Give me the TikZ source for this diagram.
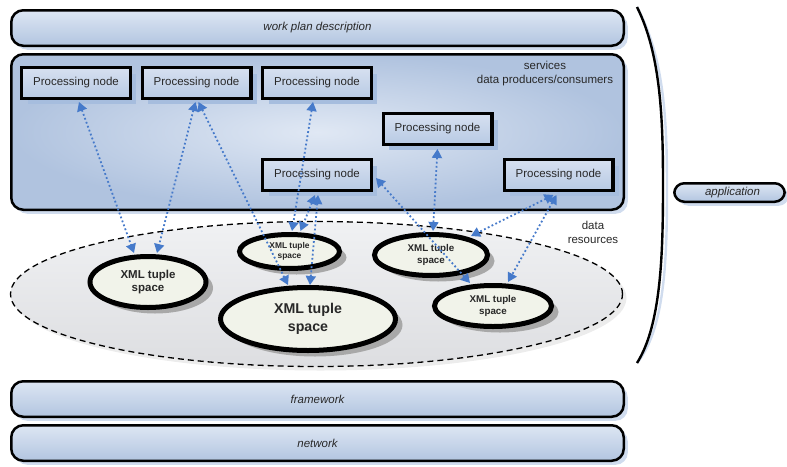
\documentclass[tikz,border=0pt]{standalone}
\usepackage{fontspec}
\setmainfont{Liberation Sans}
\usetikzlibrary{arrows.meta,shadows,shapes.geometric}

\definecolor{barTop}{RGB}{221,230,243}
\definecolor{barBot}{RGB}{178,197,224}
\definecolor{barShadow}{RGB}{208,220,238}
\definecolor{boxInner}{RGB}{224,232,244}
\definecolor{boxOuter}{RGB}{176,195,223}
\definecolor{pnTop}{RGB}{214,224,240}
\definecolor{pnBot}{RGB}{184,202,228}
\definecolor{pnShadow}{RGB}{166,189,222}
\definecolor{linkBlue}{RGB}{70,122,202}
\definecolor{tupleFill}{RGB}{241,243,234}
\definecolor{tupleShadow}{RGB}{168,168,168}
\definecolor{poolTop}{RGB}{240,241,243}
\definecolor{poolBot}{RGB}{221,222,225}
\definecolor{poolShadow}{RGB}{236,236,236}
\definecolor{labelGrey}{RGB}{40,40,40}

\tikzset{
  txt/.style={font=\fontsize{11.5}{14}\selectfont, text=labelGrey},
  layerbar/.style={draw=black, line width=2.5pt, rounded corners=12pt,
    top color=barTop, bottom color=barBot, inner sep=0pt,
    minimum width=612.5pt, minimum height=35.5pt,
    drop shadow={shadow xshift=4pt, shadow yshift=-4pt, fill=barShadow, opacity=1},
    txt, font=\fontsize{11.5}{14}\selectfont\itshape},
  pnode/.style={draw=black, line width=3.2pt, rectangle, inner sep=0pt,
    minimum width=108.8pt, minimum height=30.8pt,
    top color=pnTop, bottom color=pnBot,
    drop shadow={shadow xshift=6pt, shadow yshift=-6pt, fill=pnShadow, opacity=1},
    txt},
  tuple/.style={draw=black, line width=5pt, ellipse, inner sep=0pt,
    fill=tupleFill, align=center, text=labelGrey,
    drop shadow={shadow xshift=7pt, shadow yshift=-6pt, fill=tupleShadow, opacity=1}},
  link/.style={draw=linkBlue, line width=1.8pt, dash pattern=on 1.8pt off 2.4pt,
    {Triangle[length=9pt,width=10pt]}-{Triangle[length=9pt,width=10pt]}},
}

\begin{document}
\begin{tikzpicture}[x=1pt, y=-1pt]
\useasboundingbox (0,0) rectangle (787,466);

% layer bars
\node[layerbar] (plan) at (317.5,28) {work plan description};
\node[layerbar] (framework) at (317.5,399) {framework};
\node[layerbar] (network) at (317.5,443) {network};

% services area
\node[draw=black, line width=2.5pt, rounded corners=12pt, inner sep=0pt,
      minimum width=612.5pt, minimum height=155.5pt,
      inner color=boxInner, outer color=boxOuter,
      drop shadow={shadow xshift=4pt, shadow yshift=-4pt, fill=barShadow, opacity=1}]
      (services) at (317.5,132) {};
\node[txt, align=center] (servlabel) at (545,74) {services\\data producers/consumers};

% processing nodes
\node[pnode] (pn1) at (76,83) {Processing node};
\node[pnode] (pn2) at (196.5,83) {Processing node};
\node[pnode] (pn3) at (317,83) {Processing node};
\node[pnode] (pn4) at (437.5,129) {Processing node};
\node[pnode] (pn5) at (317,175) {Processing node};
\node[pnode] (pn6) at (558.5,175) {Processing node};

% data resources pool
\node[draw=black, line width=1.3pt, dash pattern=on 6pt off 4pt, ellipse,
      inner sep=0pt, minimum width=612pt, minimum height=145pt,
      top color=poolTop, bottom color=poolBot,
      drop shadow={shadow xshift=4pt, shadow yshift=-4pt, fill=poolShadow, opacity=1}]
      (pool) at (316.5,294) {};
\node[txt, align=center] (poollabel) at (593,232) {data\\resources};

% tuple spaces
\node[tuple, minimum width=116pt, minimum height=51pt,
      font=\fontsize{11.5}{13}\selectfont\bfseries] (ta) at (148,282) {XML tuple\\space};
\node[tuple, minimum width=100pt, minimum height=34pt,
      font=\fontsize{8.4}{10.5}\selectfont\bfseries] (tb) at (289.5,251.5) {XML tuple\\space};
\node[tuple, minimum width=175pt, minimum height=63pt,
      font=\fontsize{14.2}{18}\selectfont\bfseries] (tc) at (308,319) {XML tuple\\space};
\node[tuple, minimum width=113pt, minimum height=41pt,
      font=\fontsize{9.8}{12}\selectfont\bfseries] (td) at (431,255) {XML tuple\\space};
\node[tuple, minimum width=117pt, minimum height=41pt,
      font=\fontsize{9.8}{12}\selectfont\bfseries] (te) at (493,306) {XML tuple\\space};

% application bracket and label
\coordinate (brtop) at (637,7);
\coordinate (brbot) at (637,363);
\draw[barShadow, line width=2.4pt, xshift=4pt, yshift=-4pt]
  (brtop) .. controls (661,55) and (663,120) .. (663,185)
          .. controls (663,255) and (661,325) .. (brbot);
\draw[black, line width=2.4pt]
  (brtop) .. controls (661,55) and (663,120) .. (663,185)
          .. controls (663,255) and (661,325) .. (brbot);
\node[layerbar, rounded corners=10pt, minimum width=110.5pt, minimum height=18.5pt]
  (app) at (729.5,192.5) {\hspace{6pt}application};

% links between processing nodes and tuple spaces
\draw[link] ([xshift=3pt,yshift=-2pt]pn1.south) -- ([xshift=-14pt,yshift=1pt]ta.north);
\draw[link] ([xshift=-1pt,yshift=-2pt]pn2.south) -- ([xshift=9pt,yshift=1pt]ta.north);
\draw[link] ([xshift=2pt,yshift=-2pt]pn2.south) -- ([xshift=-20pt,yshift=0pt]tc.north);
\draw[link] ([xshift=-4pt,yshift=-2pt]pn3.south) -- ([xshift=2.5pt,yshift=1pt]tb.north);
\draw[link] ([xshift=-2pt,yshift=-3pt]pn5.south) -- ([xshift=11pt,yshift=1pt]tb.north);
\draw[link] ([xshift=1pt,yshift=-3pt]pn5.south) -- ([xshift=2pt,yshift=0pt]tc.north);
\draw[link] ([xshift=3pt,yshift=-3pt]pn5.east) -- ([xshift=-23pt,yshift=0pt]te.north);
\draw[link] ([xshift=0pt,yshift=-3pt]pn4.south) -- ([xshift=2pt,yshift=1pt]td.north);
\draw[link] ([xshift=-5pt,yshift=-3pt]pn6.south) -- ([xshift=40pt,yshift=-4pt]td.north);
\draw[link] ([xshift=-2pt,yshift=-3pt]pn6.south) -- ([xshift=15pt,yshift=1pt]te.north);
\end{tikzpicture}
\end{document}
